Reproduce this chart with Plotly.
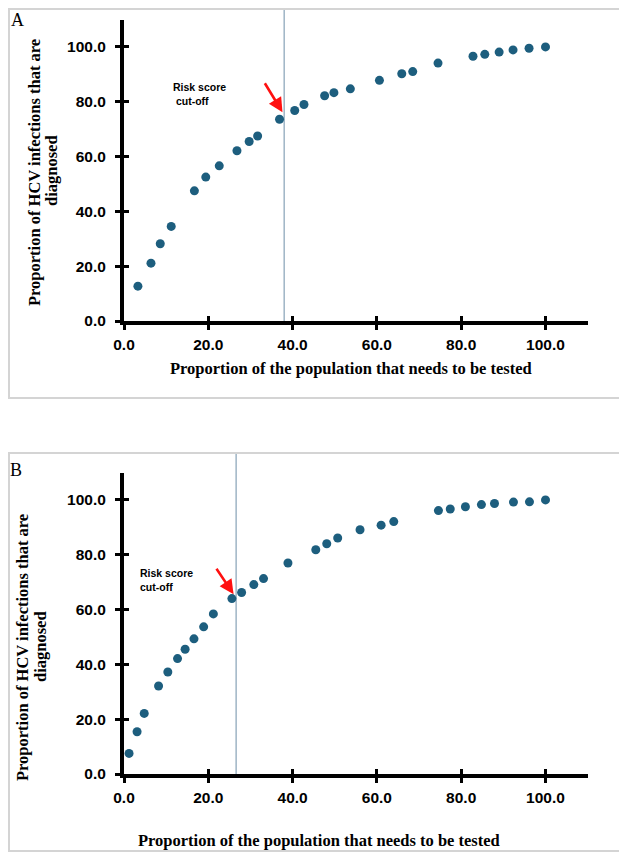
import plotly.graph_objects as go

# The page body has an 8px margin, so the figure is drawn 8px smaller and
# every position below is given in the 627x853 window's pixels minus that offset.
WIN_W, WIN_H = 627, 853
OFF = 8
W, H = WIN_W - OFF, WIN_H - OFF

# ---------------- data ----------------
a_x = [3.3, 6.4, 8.6, 11.2, 16.7, 19.4, 22.6, 26.8, 29.7, 31.7, 36.9, 40.5, 42.7,
       47.6, 49.8, 53.7, 60.6, 65.9, 68.5, 74.5, 82.8, 85.6, 89.0, 92.3, 96.1, 100.0]
a_y = [12.7, 21.1, 28.2, 34.5, 47.5, 52.5, 56.6, 62.1, 65.5, 67.5, 73.6, 76.8, 79.0,
       82.2, 83.3, 84.7, 87.8, 90.2, 91.0, 94.1, 96.6, 97.3, 98.1, 98.9, 99.5, 100.0]

b_x = [1.2, 3.1, 4.8, 8.2, 10.4, 12.7, 14.5, 16.6, 18.9, 21.2, 25.6, 27.9, 30.8,
       33.1, 38.9, 45.5, 48.1, 50.7, 56.0, 61.0, 64.0, 74.6, 77.4, 81.0, 84.8,
       87.9, 92.4, 96.2, 100.0]
b_y = [7.5, 15.4, 22.1, 32.1, 37.2, 42.1, 45.5, 49.3, 53.7, 58.4, 64.0, 66.2, 69.1,
       71.3, 77.0, 81.8, 84.0, 86.1, 89.1, 90.8, 92.1, 96.1, 96.7, 97.5, 98.3,
       98.7, 99.2, 99.3, 100.0]

a_cutoff = 38.0
b_cutoff = 26.6

tick_vals = [0, 20, 40, 60, 80, 100]
tick_text = ["0.0", "20.0", "40.0", "60.0", "80.0", "100.0"]

x_title = "Proportion of the population that needs to be tested"
y_title_1 = "Proportion of HCV infections that are"
y_title_2 = "diagnosed"
cut_label = "Risk score<br>\u00a0cut-off"
cut_label_b = "Risk score<br>cut-off"

# ---------------- styling helpers ----------------
MARKER = "#1d5e7e"
SANS = "Liberation Sans, Arial, sans-serif"
SERIF = "Liberation Serif, Times New Roman, serif"


def px_x(p):
    return (p - OFF) / W


def px_y(p):
    return 1 - (p - OFF) / H


XDOM = [px_x(124.0), px_x(124.0 + 110 * 4.215)]
YDOM_A = [px_y(321.0), px_y(19.5)]
YDOM_B = [px_y(774.0), px_y(472.5)]

axis_common = dict(
    range=[0, 110], tickvals=tick_vals, ticktext=tick_text,
    showline=True, linewidth=4, linecolor="black",
    ticks="outside", ticklen=5, tickwidth=3, tickcolor="black",
    showgrid=False, zeroline=False, automargin=False,
    tickfont=dict(family=SANS, size=15.5, color="black", weight="bold"),
)
overlay_common = dict(
    range=[0, 110], tickvals=tick_vals, showticklabels=False,
    showline=False, ticks="inside", ticklen=5, tickwidth=3, tickcolor="black",
    showgrid=False, zeroline=False, automargin=False,
)

fig = go.Figure()

fig.add_trace(go.Scatter(x=a_x, y=a_y, mode="markers", xaxis="x", yaxis="y",
                         marker=dict(color=MARKER, size=9), showlegend=False))
fig.add_trace(go.Scatter(x=b_x, y=b_y, mode="markers", xaxis="x2", yaxis="y2",
                         marker=dict(color=MARKER, size=9), showlegend=False))
# empty traces so the overlay (inside-tick) axes are drawn
for xa, ya in [("x3", "y"), ("x", "y3"), ("x4", "y2"), ("x2", "y4")]:
    fig.add_trace(go.Scatter(x=[], y=[], xaxis=xa, yaxis=ya, showlegend=False,
                             hoverinfo="skip"))

fig.update_layout(
    width=W, height=H,
    margin=dict(l=0, r=0, t=0, b=0, pad=0, autoexpand=False),
    paper_bgcolor="white", plot_bgcolor="white",
    showlegend=False,
    xaxis=dict(domain=XDOM, anchor="y", ticklabelstandoff=1, **axis_common),
    yaxis=dict(domain=YDOM_A, anchor="x", ticklabelstandoff=6, **axis_common),
    xaxis2=dict(domain=XDOM, anchor="y2", ticklabelstandoff=1, **axis_common),
    yaxis2=dict(domain=YDOM_B, anchor="x2", ticklabelstandoff=6, **axis_common),
    xaxis3=dict(overlaying="x", anchor="y", domain=XDOM, **overlay_common),
    yaxis3=dict(overlaying="y", anchor="x", domain=YDOM_A, **overlay_common),
    xaxis4=dict(overlaying="x2", anchor="y2", domain=XDOM, **overlay_common),
    yaxis4=dict(overlaying="y2", anchor="x2", domain=YDOM_B, **overlay_common),
)

shapes = [
    # panel borders
    dict(type="rect", xref="paper", yref="paper", x0=px_x(9), x1=px_x(621),
         y0=px_y(398), y1=px_y(9), line=dict(color="#d4d4d4", width=2)),
    dict(type="rect", xref="paper", yref="paper", x0=px_x(9), x1=px_x(625),
         y0=px_y(851), y1=px_y(453), line=dict(color="#d4d4d4", width=2)),
    # cut-off lines
    dict(type="line", xref="x", yref="paper", x0=a_cutoff, x1=a_cutoff,
         y0=YDOM_A[0], y1=1, line=dict(color="#8fa8bc", width=1.3), layer="below"),
    dict(type="line", xref="x2", yref="paper", x0=b_cutoff, x1=b_cutoff,
         y0=YDOM_B[0], y1=px_y(453), line=dict(color="#8fa8bc", width=1.3), layer="below"),
]
fig.update_layout(shapes=shapes)

ann = []
title_font = dict(family=SERIF, size=16.5, color="black", weight="bold")
# panel letters
ann.append(dict(text="A", xref="paper", yref="paper", x=px_x(17), y=px_y(20),
                xanchor="center", yanchor="middle", showarrow=False,
                font=dict(family=SERIF, size=18, color="black")))
ann.append(dict(text="B", xref="paper", yref="paper", x=px_x(16), y=px_y(470),
                xanchor="center", yanchor="middle", showarrow=False,
                font=dict(family=SERIF, size=18, color="black")))
# x titles
ann.append(dict(text=x_title, xref="paper", yref="paper", x=px_x(350.5), y=px_y(369),
                xanchor="center", yanchor="middle", showarrow=False, font=title_font))
ann.append(dict(text=x_title, xref="paper", yref="paper", x=px_x(319), y=px_y(840),
                xanchor="center", yanchor="middle", showarrow=False, font=title_font))
# y titles
for text, cx, cy in [(y_title_1, 34, 173), (y_title_2, 52, 171),
                     (y_title_1, 22, 648), (y_title_2, 40, 647)]:
    ann.append(dict(text=text, xref="paper", yref="paper", x=px_x(cx), y=px_y(cy),
                    xanchor="center", yanchor="middle", textangle=-90,
                    showarrow=False, font=title_font))
# cut-off labels
lab_font = dict(family=SANS, size=10.5, color="black", weight="bold")
ann.append(dict(text=cut_label, xref="x", yref="y", x=11.2, y=83.0,
                xanchor="left", yanchor="middle", align="left",
                showarrow=False, font=lab_font))
ann.append(dict(text=cut_label_b, xref="x2", yref="y2", x=3.4, y=70.7,
                xanchor="left", yanchor="middle", align="left",
                showarrow=False, font=lab_font))
# red arrows
ann.append(dict(text="", xref="x", yref="y", x=37.6, y=76.2,
                axref="x", ayref="y", ax=33.2, ay=87.3, showarrow=True,
                arrowhead=2, arrowsize=1.1, arrowwidth=2.6, arrowcolor="#ff1010",
                standoff=0))
ann.append(dict(text="", xref="x2", yref="y2", x=26.0, y=65.6,
                axref="x2", ayref="y2", ax=21.7, ay=75.4, showarrow=True,
                arrowhead=2, arrowsize=1.1, arrowwidth=2.6, arrowcolor="#ff1010",
                standoff=0))
fig.update_layout(annotations=ann)

fig.write_html("out.html")
